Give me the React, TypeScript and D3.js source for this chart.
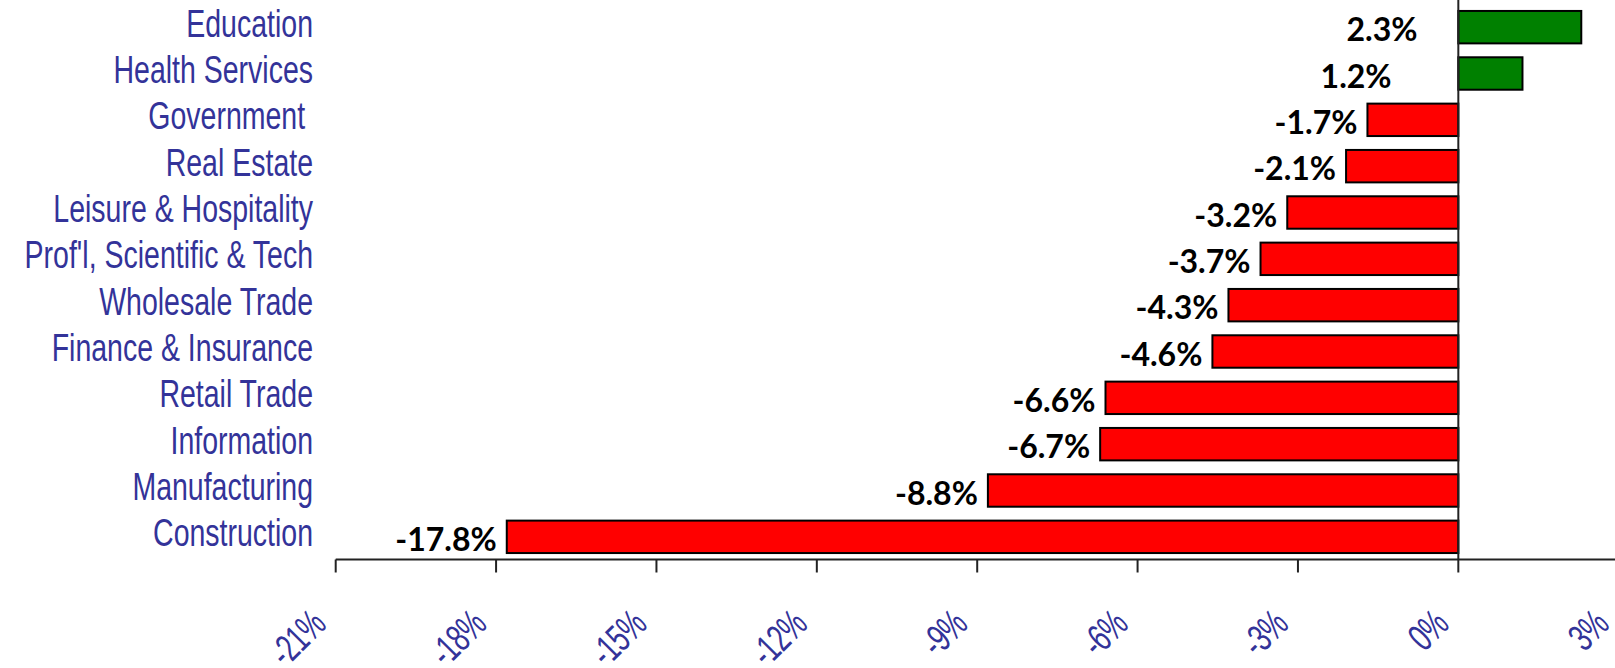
import React from 'react';
import * as d3 from 'd3';

const categories = [
  'Education',
  'Health Services',
  'Government\u00a0',
  'Real Estate',
  'Leisure & Hospitality',
  "Prof'l, Scientific & Tech",
  'Wholesale Trade',
  'Finance & Insurance',
  'Retail Trade',
  'Information',
  'Manufacturing',
  'Construction',
];
const values = [2.3, 1.2, -1.7, -2.1, -3.2, -3.7, -4.3, -4.6, -6.6, -6.7, -8.8, -17.8];
const valueLabels = ['2.3%', '1.2%', '-1.7%', '-2.1%', '-3.2%', '-3.7%', '-4.3%', '-4.6%', '-6.6%', '-6.7%', '-8.8%', '-17.8%'];
const tickValues = [-21, -18, -15, -12, -9, -6, -3, 0, 3];
const tickLabels = ['-21%', '-18%', '-15%', '-12%', '-9%', '-6%', '-3%', '0%', '3%'];

const W = 1615;
const H = 668;
const BLUE = '#333399';

export default function App() {
  const x = d3.scaleLinear().domain([-21, 3]).range([335.7, 1618.7]);
  const y = d3
    .scaleBand<string>()
    .domain(categories)
    .range([4, 560])
    .paddingInner(0.3)
    .paddingOuter(0.15);
  const axisY = 559.5;
  const x0 = x(0);

  return (
    <svg
      width={W}
      height={H}
      style={{ position: 'absolute', left: 0, top: 0, display: 'block', background: '#fff' }}
    >
      {/* bars */}
      {categories.map((c, i) => {
        const v = values[i];
        const xa = x(Math.min(0, v));
        const xb = x(Math.max(0, v));
        return (
          <rect
            key={c}
            x={xa}
            y={y(c)}
            width={xb - xa}
            height={y.bandwidth()}
            fill={v >= 0 ? '#008000' : '#FF0000'}
            stroke="#000"
            strokeWidth={2}
          />
        );
      })}

      {/* zero line */}
      <line x1={x0} x2={x0} y1={0} y2={axisY} stroke="#222" strokeWidth={2} />

      {/* x axis */}
      <line x1={x(-21)} x2={W} y1={axisY} y2={axisY} stroke="#222" strokeWidth={2} />
      {tickValues.map((t, i) => (
        <g key={t}>
          <line x1={x(t)} x2={x(t)} y1={axisY} y2={axisY + 13} stroke="#222" strokeWidth={2} />
          <text
            transform={`translate(${x(t) - 8},${axisY + 67}) rotate(-45) scale(0.68,1)`}
            textAnchor="end"
            fontFamily="'Liberation Sans', Arial, sans-serif"
            fontSize={39}
            letterSpacing={-1}
            fill={BLUE}
          >
            {tickLabels[i]}
          </text>
        </g>
      ))}

      {/* category labels */}
      {categories.map((c) => {
        const yc = (y(c) as number) + y.bandwidth() / 2;
        return (
          <text
            key={c}
            transform={`translate(313,${yc + 9.5}) scale(0.75,1)`}
            textAnchor="end"
            fontFamily="'Liberation Sans', Arial, sans-serif"
            fontSize={38}
            fill={BLUE}
            style={{ whiteSpace: 'pre' }}
          >
            {c}
          </text>
        );
      })}

      {/* value labels */}
      {categories.map((c, i) => {
        const v = values[i];
        const yc = (y(c) as number) + y.bandwidth() / 2;
        const endX = v < 0 ? x(v) - 10 : x0 - 95 + 0.44 * (x(v) - x0);
        return (
          <text
            key={c}
            x={endX}
            y={yc + 14}
            textAnchor="end"
            fontFamily="Lato, 'Open Sans', sans-serif"
            fontWeight={700}
            fontSize={32}
            fill="#000"
          >
            {valueLabels[i]}
          </text>
        );
      })}
    </svg>
  );
}
